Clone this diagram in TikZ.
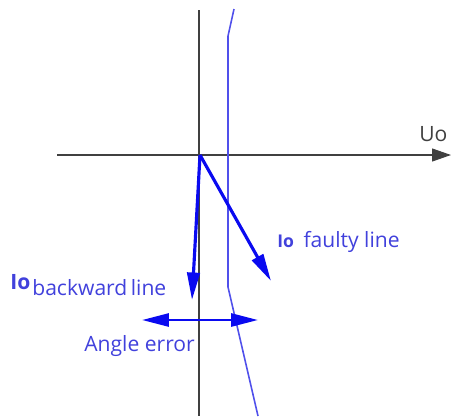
\documentclass[tikz,border=0pt]{standalone}
\usepackage{fontspec}
\setmainfont{Open Sans}
\usepackage{tikz}
\usetikzlibrary{arrows.meta,positioning}

\definecolor{vecblue}{RGB}{10,10,240}
\definecolor{txtblue}{RGB}{65,65,220}
\definecolor{limblue}{RGB}{80,80,235}

\begin{document}
\begin{tikzpicture}[
  x=0.02cm, y=-0.02cm,
  font=\large,
  axis/.style={draw=black!75, line width=0.6pt},
  vec/.style={-{Triangle[length=5.5mm,width=2.5mm]}, draw=vecblue, fill=vecblue, line width=1.8pt},
  err/.style={{Triangle[length=5.4mm,width=2.6mm]}-{Triangle[length=5.4mm,width=2.6mm]}, draw=vecblue, line width=1.6pt},
  lim/.style={draw=limblue, line width=0.9pt},
  lbl/.style={text=txtblue, inner sep=0pt, anchor=base west},
]
\useasboundingbox (0,0) rectangle (452,416);
% axes
\coordinate (o) at (200,155);
\coordinate (ytop) at (199,10);
\coordinate (ybot) at (199,416);
\coordinate (xl) at (57,155);
\coordinate (xr) at (451,155);
\draw[axis] (ytop) -- (ybot);
\draw[axis, -{Triangle[length=3.8mm,width=2.6mm]}] (xl) -- (xr);
\node[anchor=base west, inner sep=0pt, text=black!75] (uo) at (419,141) {Uo};

% boundary line
\coordinate (b1) at (234,9);
\coordinate (b2) at (228,36);
\coordinate (b3) at (228,287);
\coordinate (b4) at (258,416);
\draw[lim] (b1) -- (b2) -- (b3) -- (b4);

% current vectors
\coordinate (tipb) at (192,300);
\coordinate (tipf) at (271,281);
\draw[vec] (o) -- (tipb);
\draw[vec] (o) -- (tipf);

% angle error
\coordinate (el) at (142,320);
\coordinate (er) at (258,320);
\draw[err] (el) -- (er);

% labels
\node[lbl, font=\normalsize\bfseries] (iof) at (277,247) {Io};
\node[lbl, right=5pt of iof.base east, anchor=base west] (fl) {faulty line};
\node[lbl, font=\large\bfseries] (iob) at (10,289) {Io};
\node[lbl] (bl) at (32,295) {backward\hspace{2pt}line};
\node[lbl] (ae) at (84,351) {Angle error};
\end{tikzpicture}
\end{document}
